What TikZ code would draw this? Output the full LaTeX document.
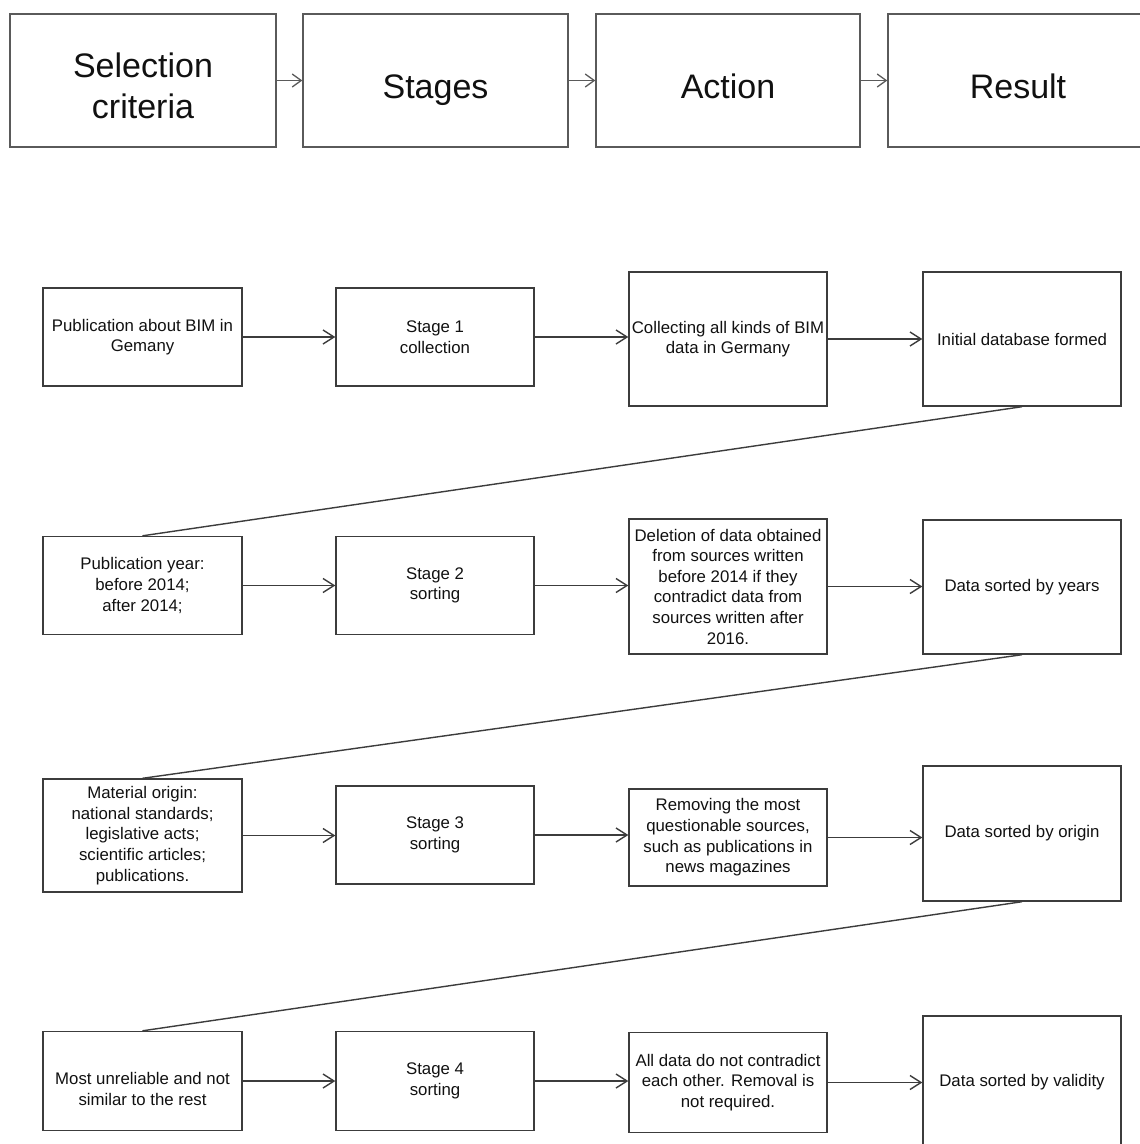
\documentclass[tikz,border=0pt]{standalone}
\usepackage{fontspec}
\setmainfont{Liberation Sans}
\usetikzlibrary{arrows.meta,calc}
\definecolor{topline}{HTML}{5A5A5A}
\definecolor{boxline}{HTML}{3C3C3C}
\definecolor{txt}{HTML}{111111}
\tikzset{
  topbox/.style={draw=topline, line width=1.4pt, inner sep=0pt, minimum height=133pt},
  toptext/.style={inner sep=0pt, align=center, text=txt, font=\fontsize{34}{41}\selectfont},
  flowbox/.style={draw=boxline, line width=1.4pt, inner sep=0pt, align=center, text=txt,
    font=\fontsize{16.8}{20.6}\selectfont},
  flowtext/.style={inner sep=0pt, align=center, text=txt, font=\fontsize{16.8}{20.6}\selectfont},
  toparr/.style={draw=topline, line width=1.3pt, -{Straight Barb[length=9pt,width=13pt,line width=1.3pt]}},
  flowarr/.style={draw=boxline, line width=1.4pt, -{Straight Barb[length=11pt,width=14pt,line width=1.4pt]}},
  link/.style={draw=boxline, line width=1.4pt}
}
\begin{document}
\begin{tikzpicture}[x=1pt,y=-1pt]
\useasboundingbox (0,0) rectangle (1140,1144);
\fill[white] (0,0) rectangle (1140,1144);
\begin{scope}
\clip (0,0) rectangle (1140,1144);
% header row
\node[topbox, minimum width=266pt] (T1) at (143,80.5) {};
\node[topbox, minimum width=265pt] (T2) at (435.5,80.5) {};
\node[topbox, minimum width=264pt] (T3) at (728,80.5) {};
\node[topbox, minimum width=265pt] (T4) at (1020.5,80.5) {};
\node[toptext] (T1t) at (143,85.5) {Selection\\criteria};
\node[toptext, anchor=base] (T2t) at (435.5,98.5) {Stages};
\node[toptext, anchor=base] (T3t) at (728,98.5) {Action};
\node[toptext, anchor=base] (T4t) at (1018,98.5) {Result};
\draw[toparr] (T1.east) -- (T2.west);
\draw[toparr] (T2.east) -- (T3.west);
\draw[toparr] (T3.east) -- (T4.west);

% row 1
\node[flowbox, minimum width=199pt, minimum height=98pt] (A1) at (142.5,337) {Publication about BIM in\\Gemany};
\node[flowbox, minimum width=198pt, minimum height=98pt] (B1) at (435,337) {Stage 1\\collection};
\node[flowbox, minimum width=198pt, minimum height=134pt] (C1) at (728,339) {Collecting all kinds of BIM\\data in Germany};
\node[flowbox, minimum width=198pt, minimum height=134pt] (D1) at (1022,339) {Initial database formed};
\draw[flowarr] (A1.east) -- (A1.east -| B1.west);
\draw[flowarr] (B1.east) -- (B1.east -| C1.west);
\draw[flowarr] (C1.east) -- (C1.east -| D1.west);

% row 2
\node[flowbox, minimum width=199pt, minimum height=98pt] (A2) at (142.5,585.5) {Publication year:\\before 2014;\\after 2014;};
\node[flowbox, minimum width=198pt, minimum height=98pt] (B2) at (435,585.5) {Stage 2\\sorting};
\node[flowbox, minimum width=198pt, minimum height=135pt] (C2) at (728,586.5) {Deletion of data obtained\\from sources written\\before 2014 if they\\contradict data from\\sources written after\\2016.};
\node[flowbox, minimum width=198pt, minimum height=134pt] (D2) at (1022,587) {Data sorted by years};
\draw[flowarr] (A2.east) -- (A2.east -| B2.west);
\draw[flowarr] (B2.east) -- (B2.east -| C2.west);
\draw[flowarr] (C2.east) -- (C2.east -| D2.west);

% row 3
\node[flowbox, minimum width=199pt, minimum height=113pt] (A3) at (142.5,835.5) {Material origin:\\national standards;\\legislative acts;\\scientific articles;\\publications.};
\node[flowbox, minimum width=198pt, minimum height=98pt] (B3) at (435,835) {Stage 3\\sorting};
\node[flowbox, minimum width=198pt, minimum height=97pt] (C3) at (728,837.5) {Removing the most\\questionable sources,\\such as publications in\\news magazines};
\node[flowbox, minimum width=198pt, minimum height=135pt] (D3) at (1022,833.5) {Data sorted by origin};
\draw[flowarr] (A3.east) -- (A3.east -| B3.west);
\draw[flowarr] (B3.east) -- (B3.east -| C3.west);
\draw[flowarr] (C3.east) -- (C3.east -| D3.west);

% row 4
\node[flowbox, minimum width=199pt, minimum height=99pt] (A4) at (142.5,1081) {};
\node[flowtext] (A4t) at (142.5,1089) {Most unreliable and not\\similar to the rest};
\node[flowbox, minimum width=198pt, minimum height=99pt] (B4) at (435,1081) {Stage 4\\sorting};
\node[flowbox, minimum width=198pt, minimum height=100pt] (C4) at (728,1082.5) {All data do not contradict\\each other. Removal is\\not required.};
\node[flowbox, minimum width=198pt, minimum height=132pt] (D4) at (1022,1082) {Data sorted by validity};
\draw[flowarr] (A4.east) -- (A4.east -| B4.west);
\draw[flowarr] (B4.east) -- (B4.east -| C4.west);
\draw[flowarr] (C4.east) -- (C4.east -| D4.west);

% links between rows
\draw[link] (D1.south) -- (A2.north);
\draw[link] (D2.south) -- (A3.north);
\draw[link] (D3.south) -- (A4.north);
\end{scope}
\end{tikzpicture}
\end{document}
